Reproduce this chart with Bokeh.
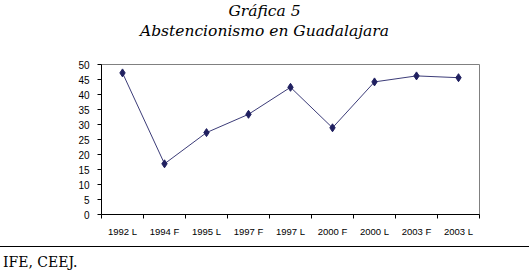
from bokeh.plotting import figure
from bokeh.models import Range1d, FixedTicker, Div
from bokeh.layouts import column
from bokeh.embed import file_html
from bokeh.resources import INLINE

categories = ["1992 L", "1994 F", "1995 L", "1997 F", "1997 L", "2000 F", "2000 L", "2003 F", "2003 L"]
abstencion = [47.2, 16.9, 27.3, 33.4, 42.4, 28.9, 44.2, 46.2, 45.6]
y_ticks = [0, 5, 10, 15, 20, 25, 30, 35, 40, 45, 50]
title_1 = "Gráfica 5"
title_2 = "Abstencionismo en Guadalajara"
fuente = "IFE, CEEJ."

xs = [i + 0.5 for i in range(len(categories))]

header = Div(text=title_1 + "<br>" + title_2, width=529, height=50, margin=(0, 0, 0, 0),
             styles={"font-family": "'DejaVu Serif', serif", "font-style": "italic",
                     "font-size": "15.5px", "line-height": "19.5px", "color": "black",
                     "text-align": "center", "padding-top": "2px", "box-sizing": "border-box",
                     "width": "529px", "height": "50px", "background": "white",
                     "white-space": "nowrap"})

p = figure(width=529, height=196, output_backend="svg", toolbar_location=None,
           x_range=Range1d(0, len(categories)), y_range=Range1d(0, 50),
           min_border_left=101, min_border_right=50, min_border_top=14,
           min_border_bottom=32, margin=(0, 0, 0, 0))
p.background_fill_color = "white"
p.border_fill_color = "white"
p.outline_line_color = "#808080"
p.outline_line_width = 1
p.xgrid.visible = False
p.ygrid.visible = False

tick_font = "Liberation Sans"

p.xaxis.ticker = FixedTicker(ticks=xs, minor_ticks=list(range(len(categories) + 1)))
p.xaxis.major_label_overrides = {x: c for x, c in zip(xs, categories)}
p.xaxis.major_tick_line_color = None
p.xaxis.minor_tick_out = 4
p.xaxis.minor_tick_in = 0
p.xaxis.minor_tick_line_color = "black"
p.xaxis.axis_line_color = "black"
p.xaxis.major_label_standoff = 5
p.xaxis.major_label_text_font = tick_font
p.xaxis.major_label_text_font_size = "9.5px"
p.xaxis.major_label_text_color = "black"

p.yaxis.ticker = FixedTicker(ticks=y_ticks)
p.yaxis.major_tick_out = 4
p.yaxis.major_tick_in = 0
p.yaxis.minor_tick_line_color = None
p.yaxis.axis_line_color = "black"
p.yaxis.major_label_standoff = 8
p.yaxis.major_label_text_font = tick_font
p.yaxis.major_label_text_font_size = "10px"
p.yaxis.major_label_text_color = "black"

p.line(xs, abstencion, line_color="#3c3c78", line_width=1)
p.scatter(xs, abstencion, marker="diamond", size=8, fill_color="#202060", line_color="#202060")

footer = Div(text=fuente, width=529, height=27, margin=(0, 0, 0, 0),
             styles={"border-top": "1px solid black", "font-family": "'DejaVu Serif', serif",
                     "font-size": "14px", "line-height": "16px", "color": "black",
                     "padding-left": "3px", "padding-top": "7px", "box-sizing": "border-box",
                     "width": "529px", "height": "27px", "background": "white"})

layout = column(header, p, footer, spacing=0, margin=(0, 0, 0, 0))
open("out.html", "w").write(file_html(layout, INLINE))
